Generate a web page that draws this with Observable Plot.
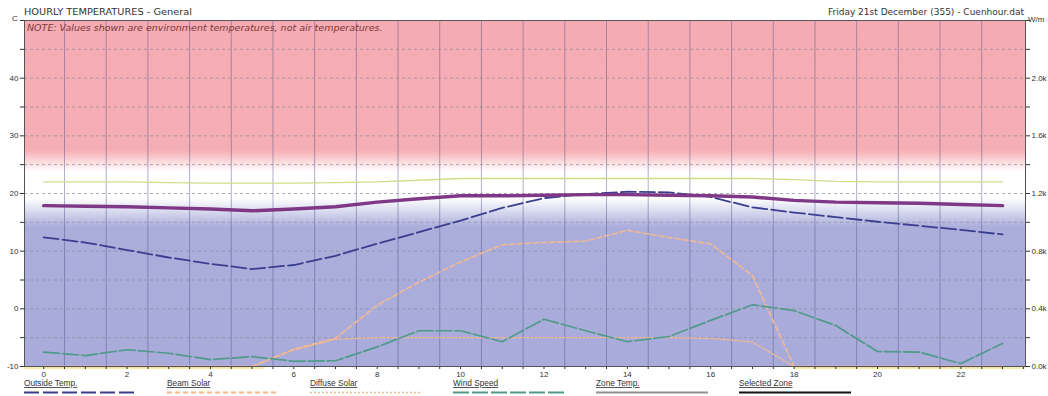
<!DOCTYPE html>
<html><head><meta charset="utf-8">
<script src="https://cdn.jsdelivr.net/npm/d3@7"></script>
<script src="https://cdn.jsdelivr.net/npm/@observablehq/plot@0.6"></script>
<style>
body{margin:0;background:#fff;}
svg{display:block;}
</style>
</head><body><div id="chart"></div>
<script>
// ---- data ----
const hours = [0,1,2,3,4,5,6,7,8,9,10,11,12,13,14,15,16,17,18,19,20,21,22,23];
const outsideTemp = [12.4,11.5,10.2,8.9,7.8,6.9,7.6,9.2,11.3,13.3,15.3,17.5,19.2,19.9,20.3,20.2,19.4,17.6,16.7,15.9,15.1,14.4,13.7,12.9];
const selectedZoneTemp = [17.9,17.8,17.7,17.5,17.3,17.0,17.3,17.7,18.5,19.1,19.6,19.6,19.7,19.8,19.8,19.7,19.6,19.4,18.8,18.5,18.4,18.3,18.1,17.9];
const otherZoneTemp = [22.0,22.0,22.0,21.9,21.8,21.8,21.8,21.9,22.0,22.3,22.6,22.6,22.6,22.6,22.6,22.6,22.6,22.6,22.4,22.1,22.0,22.0,22.0,22.0];
const windSpeedPlotted = [-7.5,-8.1,-7.1,-7.7,-8.8,-8.3,-9.1,-9.0,-6.6,-3.8,-3.8,-5.7,-1.8,-3.8,-5.7,-4.8,-2.0,0.7,-0.3,-2.9,-7.4,-7.5,-9.5,-6.0];
const beamSolar = [0,0,0,0,0,0,120,195,425,585,725,845,860,870,945,895,850,630,0,0,0,0,0,0];   // W/m2
const diffuseSolar = [0,0,0,0,0,0,115,190,200,200,200,200,200,200,200,200,195,170,0,0,0,0,0,0]; // W/m2
const nightBands = [[-0.46,5.3],[18,23.55]];
const tempTicks = [-10,-5,0,5,10,15,20,25,30,35,40,45,50];
const tempLabels = [-10,0,10,20,30,40];
const hourTicks = [0,0.5,1,1.5,2,2.5,3,3.5,4,4.5,5,5.5,6,6.5,7,7.5,8,8.5,9,9.5,10,10.5,11,11.5,12,12.5,13,13.5,14,14.5,15,15.5,16,16.5,17,17.5,18,18.5,19,19.5,20,20.5,21,21.5,22,22.5,23,23.5];
const hourLabels = [0,2,4,6,8,10,12,14,16,18,20,22];
const gridHours = [0.5,1.5,2.5,3.5,4.5,5.5,6.5,7.5,8.5,9.5,10.5,11.5,12.5,13.5,14.5,15.5,16.5,17.5,18.5,19.5,20.5,21.5,22.5];
const legendLabels = ["Outside Temp.","Beam Solar","Diffuse Solar","Wind Speed","Zone Temp.","Selected Zone"];
const titleLeft = "HOURLY TEMPERATURES - General";
const titleRight = "Friday 21st December (355) - Cuenhour.dat";
const noteText = "NOTE: Values shown are environment temperatures, not air temperatures.";

// solar axis: 0 W/m2 at -10 C, 40 W/m2 per degree
const wToT = w => w / 40 - 10;
const tToW = t => (t + 10) * 40;

const rows = hours.map((h, i) => ({
  h, outside: outsideTemp[i], zone: selectedZoneTemp[i], other: otherZoneTemp[i],
  wind: windSpeedPlotted[i], beam: wToT(beamSolar[i]), diffuse: wToT(diffuseSolar[i])
}));

const C = {
  outside: "#3b3e8e", zone: "#7e3886", other: "#d3db8a", wind: "#4f9a8a",
  beam: "#f3b98f", diffuse: "#f3b98f"
};

const plot = Plot.plot({
  width: 1048, height: 396,
  marginLeft: 24, marginRight: 23, marginTop: 20, marginBottom: 30,
  style: {fontFamily: "'Liberation Sans', Arial, sans-serif", fontSize: "8px", color: "#333", background: "transparent"},
  x: {domain: [-0.46, 23.55], label: null},
  y: {domain: [-10, 50], label: null},
  marks: [
    Plot.frame({fill: "url(#bgGrad)", stroke: null}),
    Plot.rect(nightBands, {x1: d => d[0], x2: d => d[1], y1: -10, y2: -10.55, fill: "#f4efb2"}),
    Plot.ruleX(gridHours, {stroke: "#4e5088", strokeOpacity: 0.45, strokeWidth: 1}),
    Plot.ruleY(tempTicks.filter(t => t > -10 && t < 50), {stroke: "#8a8a9a", strokeOpacity: 0.7, strokeDasharray: "3,3", strokeWidth: 1}),
    Plot.line(rows, {x: "h", y: "diffuse", stroke: C.diffuse, strokeWidth: 1.4, strokeDasharray: "2,2"}),
    Plot.line(rows, {x: "h", y: "beam", stroke: C.beam, strokeWidth: 1.6, strokeDasharray: "5,3"}),
    Plot.line(rows, {x: "h", y: "other", stroke: C.other, strokeWidth: 1.3}),
    Plot.line(rows, {x: "h", y: "wind", stroke: C.wind, strokeWidth: 1.7, strokeDasharray: "16,3"}),
    Plot.line(rows, {x: "h", y: "outside", stroke: C.outside, strokeWidth: 1.8, strokeDasharray: "15,4"}),
    Plot.line(rows, {x: "h", y: "zone", stroke: C.zone, strokeWidth: 3.4}),
    Plot.axisY(tempTicks, {anchor: "left", tickSize: 4, tickPadding: 2, stroke: "#333", label: null,
      tickFormat: d => tempLabels.includes(d) ? String(d) : ""}),
    Plot.axisY(tempTicks, {anchor: "right", tickSize: 4, tickPadding: 2, stroke: "#333", label: null,
      tickFormat: d => tempLabels.includes(d) ? (tToW(d) / 1000).toFixed(1) + "k" : ""}),
    Plot.axisX(hourTicks, {tickSize: 3, tickPadding: 2, stroke: "#333", label: null,
      tickFormat: d => hourLabels.includes(d) ? String(d) : ""}),
    Plot.frame({stroke: "#555", strokeWidth: 1})
  ]
});

document.getElementById("chart").appendChild(plot);

const svg = d3.select(plot);
const defs = svg.insert("defs", ":first-child");
const g = defs.append("linearGradient").attr("id", "bgGrad")
  .attr("x1", 0).attr("y1", 0).attr("x2", 0).attr("y2", 1);
const off = t => ((50 - t) / 60).toFixed(4);
[[50, "#f5abb3"], [27.5, "#f6aeb5"], [23.8, "#ffffff"], [19.2, "#ffffff"], [14.2, "#abaedb"], [-10, "#a9acda"]]
  .forEach(([t, c]) => g.append("stop").attr("offset", off(t)).attr("stop-color", c));

const font = "'Liberation Sans', Arial, sans-serif";
const wide = "'DejaVu Sans', Verdana, sans-serif";
const txt = (x, y, s, size, anchor, extra, fam) => {
  const t = svg.append("text").attr("x", x).attr("y", y).attr("font-family", fam || font)
    .attr("font-size", size).attr("fill", "#333").attr("text-anchor", anchor).text(s);
  if (extra) extra(t);
  return t;
};
txt(24, 15, titleLeft, 8.8, "start", t => t.attr("textLength", 168).attr("lengthAdjust", "spacingAndGlyphs"), wide);
txt(1024, 15, titleRight, 9, "end", null, wide);
txt(12, 21, "C", 8, "start");
txt(1028, 22, "W/m", 8, "start");
txt(27, 31, noteText, 9.5, "start", t => t.attr("font-style", "italic").attr("fill", "#7a3838"), wide);

const legendStyles = [
  {stroke: C.outside, dash: "15,4", w: 2.2},
  {stroke: C.beam, dash: "5,3", w: 2},
  {stroke: C.beam, dash: "2,2", w: 1.6},
  {stroke: C.wind, dash: "16,3", w: 2.2},
  {stroke: "#8f8f8f", dash: null, w: 2},
  {stroke: "#111", dash: null, w: 2}
];
legendLabels.forEach((lab, i) => {
  const x0 = 24 + i * 143;
  txt(x0, 386, lab, 8.3, "start", t => t.attr("text-decoration", "underline"));
  const ln = svg.append("line").attr("x1", x0).attr("x2", x0 + 112).attr("y1", 392.5).attr("y2", 392.5)
    .attr("stroke", legendStyles[i].stroke).attr("stroke-width", legendStyles[i].w);
  if (legendStyles[i].dash) ln.attr("stroke-dasharray", legendStyles[i].dash);
});
</script>
</body></html>
